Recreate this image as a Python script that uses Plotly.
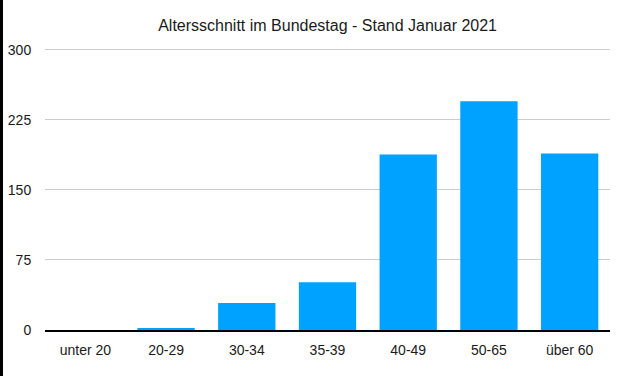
import plotly.graph_objects as go

categories = ["unter 20", "20-29", "30-34", "35-39", "40-49", "50-65", "über 60"]
values = [0, 2, 29, 51, 188, 245, 189]
y_ticks = [0, 75, 150, 225, 300]

fig = go.Figure(go.Bar(x=categories, y=values, marker=dict(color="#00A2FF", line=dict(width=0))))

L, R, T, B = 45, 14, 47, 46
W, H = 624, 376
pw, ph = W - L - R, H - T - B

fig.update_layout(
    width=W, height=H,
    margin=dict(l=L, r=R, t=T, b=B, autoexpand=False),
    paper_bgcolor="white", plot_bgcolor="white",
    bargap=0.29,
    font=dict(family="Liberation Sans, Arial, sans-serif", size=14, color="#1a1a1a"),
    title=dict(text="Altersschnitt im Bundestag - Stand Januar 2021", x=0.525, xanchor="center",
               y=1 - 25 / H, yanchor="middle", font=dict(size=16, color="#1a1a1a")),
    showlegend=False,
    shapes=[dict(type="rect", xref="paper", yref="paper",
                 x0=-L / pw, x1=-(L - 3) / pw, y0=-B / ph, y1=1 + T / ph,
                 fillcolor="black", line=dict(width=0), layer="above")],
)
fig.update_yaxes(range=[0, 303], tickvals=y_ticks, showgrid=True, gridcolor="#cccccc", gridwidth=1,
                 zeroline=False, showline=False, ticks="outside", ticklen=10, tickcolor="rgba(0,0,0,0)",
                 tickfont=dict(size=14), automargin=False)
fig.update_xaxes(showline=True, linecolor="black", linewidth=1.5, ticks="outside", ticklen=6,
                 tickcolor="rgba(0,0,0,0)", tickfont=dict(size=14), automargin=False)

fig.write_html("out.html", config={"displayModeBar": False},
               post_script="document.body.style.margin='0px';")
